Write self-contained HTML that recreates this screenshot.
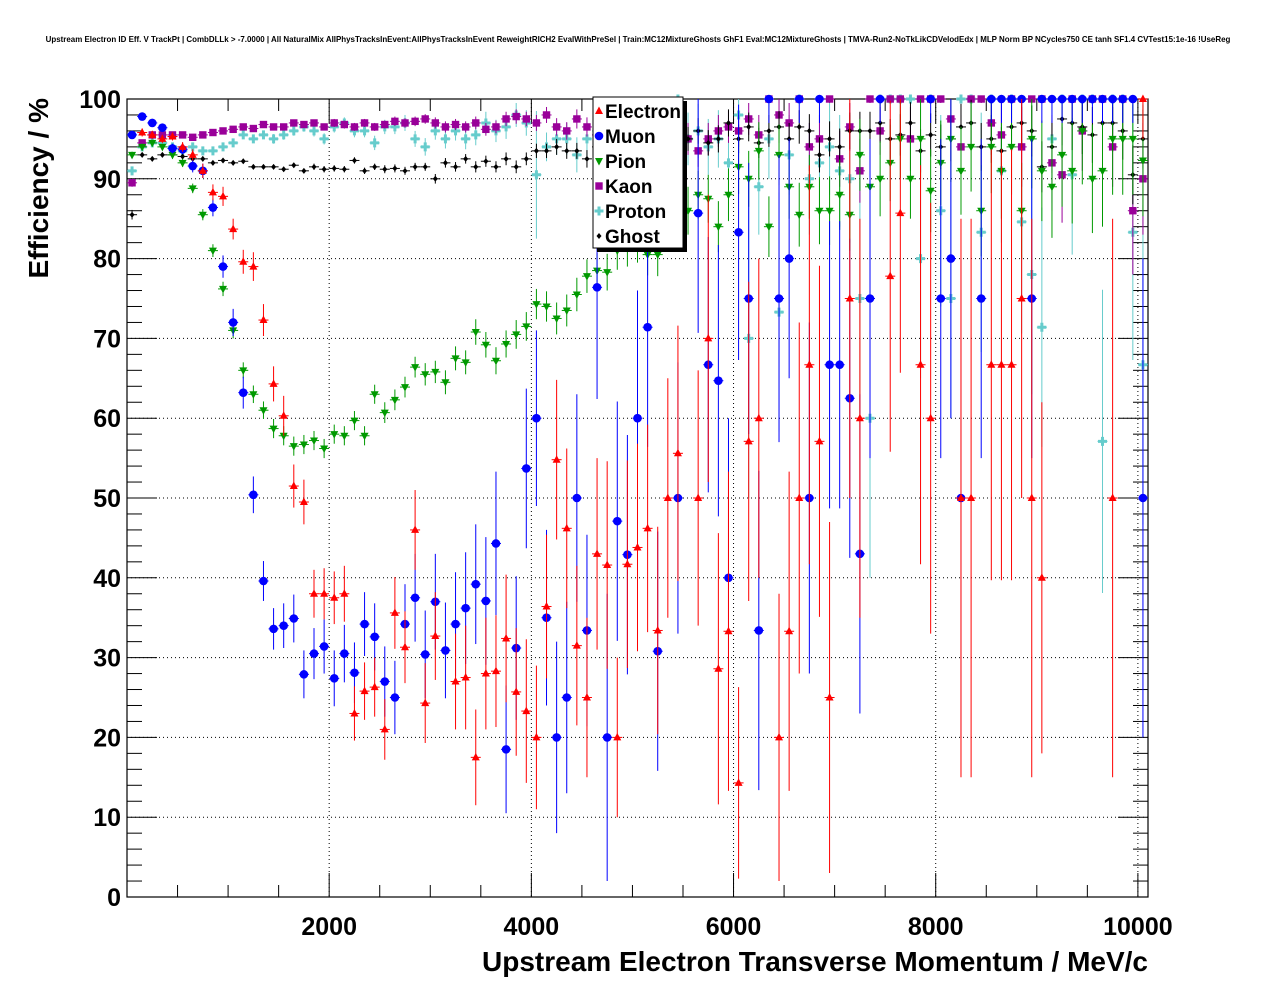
<!DOCTYPE html>
<html><head><meta charset="utf-8"><style>
body{margin:0;background:#fff;width:1276px;height:996px;overflow:hidden}
svg{font-family:"Liberation Sans",sans-serif}
</style></head><body>
<svg id="chart" width="1276" height="996" xmlns="http://www.w3.org/2000/svg">
<rect width="1276" height="996" fill="#fff"/>
<text x="638" y="42" font-size="7.95" font-weight="bold" text-anchor="middle">Upstream Electron ID Eff. V TrackPt | CombDLLk &gt; -7.0000 | All NaturalMix AllPhysTracksInEvent:AllPhysTracksInEvent ReweightRICH2 EvalWithPreSel | Train:MC12MixtureGhosts GhF1 Eval:MC12MixtureGhosts | TMVA-Run2-NoTkLikCDVelodEdx | MLP Norm BP NCycles750 CE tanh SF1.4 CVTest15:1e-16 !UseReg</text>
<g id="grid"></g>
<g id="axes"></g>
<g id="marks"></g>
<text x="1148" y="971" font-size="28" font-weight="bold" text-anchor="end">Upstream Electron Transverse Momentum / MeV/c</text>
<text transform="translate(48,98) rotate(-90)" font-size="28" font-weight="bold" text-anchor="end">Efficiency / %</text>
<g id="legend"></g>
</svg>
<script>
const binCenters = Array.from({length:101},(_,i)=>50+100*i);
const xTickLabels = [2000,4000,6000,8000,10000];
const yTickLabels = [0,10,20,30,40,50,60,70,80,90,100];
const seriesNames = ["Electron","Muon","Pion","Kaon","Proton","Ghost"];
const electronEff = [null,95.8,95.5,95,95.3,94,93,91,88.3,87.8,83.7,79.6,79,72.3,64.3,60.3,51.5,49.5,38,38,37.5,38,23,25.8,26.3,21,35.6,31.3,46,24.3,32.7,null,27,27.5,17.5,28,28.3,32.4,25.7,23.3,20,36.4,54.8,46.2,31.5,25,43,41.6,20,41.7,43.8,46.2,33.4,50,55.6,null,50,70,28.6,33.3,14.3,57.1,60,null,20,33.3,50,66.7,57.1,25,null,75,60,null,null,77.8,85.7,null,66.7,60,null,null,50,50,null,66.7,66.7,66.7,75,50,40,null,null,null,null,null,null,50,null,null,100];
const electronErr = [0.5,0.5,0.5,0.5,0.5,0.6,0.7,0.9,1,1.2,1.3,1.5,1.8,2,2.2,2.5,2.7,2.8,3,3.2,3.3,3.5,3.4,3.6,3.7,3.8,4.5,4.5,5,5,5.5,5.5,6,6.5,6,7,7,8,8,9,9,9,10,10,10,10,12,13,10,13,13,13,13,15,16,16,16,18,17,20,12,20,20,20,18,20,22,25,22,22,20,25,25,22,22,22,20,25,25,27,25,25,35,35,30,27,27,27,25,35,22,25,25,25,25,25,25,35,25,25,5];
const muonEff = [95.5,97.8,97,96.4,93.8,93.7,91.6,91,86.4,79,72,63.2,50.4,39.6,33.6,34,34.9,27.9,30.5,31.4,27.4,30.5,28.1,34.2,32.6,27,25,34.2,37.5,30.4,37,30.9,34.2,36.2,39.2,37.1,44.3,18.5,31.2,53.7,60,35,20,25,50,33.4,76.4,20,47.1,42.9,60,71.4,30.8,null,50,null,85.7,66.7,64.7,40,83.3,75,33.4,100,75,80,100,50,100,66.7,66.7,62.5,43,75,100,null,null,null,null,100,75,80,50,null,75,100,100,100,100,75,100,100,100,100,100,100,100,100,100,100,50];
const muonErr = [0.4,0.4,0.4,0.5,0.6,0.6,0.8,0.9,1.1,1.4,1.7,2,2.3,2.5,2.6,2.8,3,3,3.2,3.4,3.5,3.6,3.8,4,4.2,4.4,4.6,5,5.5,5.5,6,6,6.5,7,7.5,8,9,8,9,10,11,11,12,12,13,12,14,18,15,15,16,15,15,15,17,15,15,16,17,20,16,17,20,3,18,15,3,22,3,18,18,20,20,20,3,3,3,3,3,3,20,20,30,3,20,3,3,3,3,20,3,3,3,3,3,3,3,3,3,3,30];
const pionEff = [93,94,94.5,94,93,92,88.8,85.5,81,76.2,71,66,63,61,58.7,57.8,56.5,56.7,57.2,56.2,58,57.8,59.7,57.8,63,60.7,62.3,63.9,66.4,65.5,65.8,64.5,67.5,67,70.8,69.2,67.2,69.3,70.5,71.5,74.3,74,72.5,73.5,75.5,77.8,78.5,78.3,81,81.5,82,80.5,80.5,84,85,86,88,87.5,84,88,91.5,90,93.5,84,93,89,85.5,89,86,86,88,85.5,93,89,90,92,95,90,95,88.5,92,95,91,94,86,94,91,94,86,95,91,89,93,91,96,90,91,95,95,95,92.3];
const pionErr = [0.4,0.4,0.4,0.4,0.5,0.5,0.6,0.7,0.8,0.9,1,1,1.1,1.1,1.2,1.2,1.2,1.2,1.2,1.2,1.2,1.2,1.2,1.2,1.2,1.3,1.3,1.3,1.3,1.4,1.4,1.5,1.5,1.5,1.6,1.6,1.7,1.7,1.8,1.8,1.9,1.9,2,2,2.1,2.1,2.2,2.3,2.4,2.5,2.5,2.6,2.7,2.8,3,3,3,3,3.2,3.3,3.4,3.5,3.6,3.8,3.8,4,4,4,4.2,4.3,4.4,4.5,4.5,4.6,4.7,4.8,4.9,5,5,5.2,5.3,5.4,5.5,5.6,5.7,5.8,6,6,6,6.2,6.3,6.4,6.5,6.6,6.7,6.8,7,7,7,7,7];
const kaonEff = [89.5,94.5,95.5,95.5,95.5,95.5,95.2,95.5,95.8,96,96.2,96.5,96.3,96.8,96.5,96.5,97,96.8,97,96.5,97,96.8,96.5,97,96.5,96.8,97.2,97,97.2,97.5,97,96.5,96.8,96.5,97,96.2,96.5,97.5,97.8,97.5,97,98,96.5,96,97.5,96.5,95.5,93,94,95.5,96,96.5,92,94.5,98.2,95,93.5,95,96,96.5,96,97.5,95.5,100,98,97,100,94,95,100,92.5,96.5,91,100,96,100,100,95,100,100,100,97.5,94,100,100,97,95.5,100,94,100,100,92,90.5,100,96,100,100,94,100,86,90];
const kaonErr = [0.5,0.3,0.3,0.3,0.3,0.3,0.3,0.3,0.3,0.3,0.3,0.3,0.3,0.3,0.4,0.4,0.4,0.4,0.4,0.4,0.5,0.5,0.5,0.5,0.5,0.5,0.6,0.6,0.6,0.6,0.7,0.7,0.7,0.7,0.8,0.8,0.8,0.9,0.9,0.9,1,1,1.1,1.1,1.2,1.2,1.3,1.5,1.5,1.5,1.5,1.6,2,2,1.5,2,2,2,2,2,2,2,2.5,0.5,2,2.5,0.5,3,3,0.5,3.5,3,4,0.5,3,0.5,0.5,4,0.5,0.5,0.5,3,4,0.5,0.5,4,4,0.5,5,0.5,0.5,6,6,0.5,5,0.5,0.5,5,0.5,8,7];
const protonEff = [91,94,94.5,94.5,94,93.5,94,93.5,93.5,94,94.5,95.5,95,95.5,95,95.5,96,96.5,96,95,96.5,97,96,96,94.5,96.5,96.5,97,95,94,96,95,96,95,95.5,97,96,96.5,98,97,90.5,94,95,95,93,95,96,95.5,96,94.5,96,97,96,94,100,95,96,94,95,92,98,70,89,95,73.3,93,100,90,92,94,91,90,75,60,100,100,100,100,80,100,86,75,100,100,83.3,100,91,100,84.6,78,71.4,95,100,90.5,100,100,57.1,100,100,83.3,66.7];
const protonErr = [0.5,0.4,0.4,0.4,0.4,0.4,0.4,0.4,0.5,0.5,0.5,0.5,0.5,0.5,0.6,0.6,0.6,0.6,0.7,0.7,0.7,0.7,0.8,0.8,0.9,0.9,0.9,1,1,1.1,1.1,1.2,1.2,1.3,1.3,1.4,1.4,1.5,1.5,1.6,8,1.8,2,2,2.2,2.2,2.4,2.5,2.6,2.8,3,3,3,3.2,0.5,3.3,3.4,3.5,3.6,4,3,20,6,5,15,5,0.5,7,7,6,7,8,15,20,0.5,0.5,0.5,0.5,15,0.5,12,15,0.5,0.5,15,0.5,9,0.5,14,15,15,8,0.5,10,0.5,0.5,19,0.5,0.5,16,20];
const ghostEff = [85.5,93,92.5,93,93,92.8,92.5,92.5,92,92.3,92,92.2,91.5,91.5,91.5,91.2,91.7,91,91.5,91.2,91.3,91.2,92.3,91,91.5,91.2,91.3,91,91.5,91.5,90,92,91.5,92.5,91.5,92.2,91.5,92.5,91.5,92.5,93.5,93.5,94,93.5,93.5,92.5,94,93.5,94.5,95,94,93,95.5,95,93.5,95,96,94.5,95,97,95,96.5,94.5,96,96.5,95,96.5,96,93,95,94,96,96,96,97,95,95.5,97,93.5,95.5,94,95,96.5,97,94,95,93.5,96.5,97,96,91.5,94,97.5,97,96.5,95.5,97,97,96,90.5,95];
const ghostErr = [0.6,0.3,0.3,0.3,0.3,0.3,0.3,0.3,0.3,0.3,0.3,0.3,0.3,0.3,0.3,0.3,0.3,0.3,0.4,0.4,0.4,0.4,0.4,0.4,0.4,0.5,0.5,0.5,0.5,0.5,0.6,0.6,0.6,0.6,0.7,0.7,0.7,0.8,0.8,0.8,0.9,0.9,1,1,1,1.1,1.1,1.2,1.2,1.3,1.3,1.4,1.4,1.5,1.5,1.5,1.6,1.6,1.7,1.7,1.8,1.8,1.9,2,2,2,2.1,2.1,2.2,2.2,2.3,2.3,2.4,2.4,2.5,2.5,2.6,2.6,2.7,2.7,2.8,2.8,2.9,2.9,3,3,3,3.1,3.1,3.2,3.2,3.3,3.3,3.4,3.4,3.5,3.5,3.6,3.6,3.7,3.7];

const NS="http://www.w3.org/2000/svg";
const L=127,R=1148,T=99,B=897;
const XMAX=10100;
const xs=v=>L+(v/XMAX)*(R-L);
const ys=v=>B-(v/100)*(B-T);
function mk(tag,attrs,parent){const e=document.createElementNS(NS,tag);for(const k in attrs)e.setAttribute(k,attrs[k]);parent.appendChild(e);return e;}
const grid=document.getElementById('grid'),axes=document.getElementById('axes'),marks=document.getElementById('marks'),legend=document.getElementById('legend');
yTickLabels.forEach(v=>{if(v>0&&v<100){const g=mk('line',{x1:L,x2:R,y1:ys(v),y2:ys(v),stroke:'#000','stroke-width':1,'stroke-dasharray':'1,3'},grid);}});
xTickLabels.forEach(v=>{const g=mk('line',{x1:xs(v),x2:xs(v),y1:T,y2:B,stroke:'#000','stroke-width':1,'stroke-dasharray':'1,3'},grid);});
const frame=mk('rect',{x:L,y:T,width:R-L,height:B-T,fill:'none',stroke:'#000','stroke-width':1.2},axes);


for(let v=500;v<=10000;v+=500){const len=v%2000===0?24:12;mk('line',{x1:xs(v),x2:xs(v),y1:B,y2:B-len,stroke:'#000'},axes);mk('line',{x1:xs(v),x2:xs(v),y1:T,y2:T+len,stroke:'#000'},axes);}
for(let v=0;v<=100;v+=2){const len=v%10===0?30:15;mk('line',{x1:L,x2:L+len,y1:ys(v),y2:ys(v),stroke:'#000'},axes);mk('line',{x1:R,x2:R-len,y1:ys(v),y2:ys(v),stroke:'#000'},axes);}
xTickLabels.forEach(v=>{const t=mk('text',{x:xs(v),y:935,'font-size':25,'font-weight':'bold','text-anchor':'middle'},axes);t.textContent=v;});
yTickLabels.forEach(v=>{const t=mk('text',{x:121,y:ys(v)+9,'font-size':25,'font-weight':'bold','text-anchor':'end'},axes);t.textContent=v;});
const colors=['#ff0000','#0000ff','#009900','#990099','#66cccc','#000000'];
function marker(kind,x,y,c,p){
 if(kind===0)return mk('polygon',{points:`${x},${y-4.5} ${x-4},${y+3} ${x+4},${y+3}`,fill:c},p);
 if(kind===1)return mk('circle',{cx:x,cy:y,r:4.3,fill:c},p);
 if(kind===2)return mk('polygon',{points:`${x},${y+4.5} ${x-4},${y-3} ${x+4},${y-3}`,fill:c},p);
 if(kind===3)return mk('rect',{x:x-3.7,y:y-3.7,width:7.4,height:7.4,fill:c},p);
 if(kind===4)return mk('path',{d:`M${x-4.5},${y-1.5}h3v-3h3v3h3v3h-3v3h-3v-3h-3z`,fill:c},p);
 return mk('polygon',{points:`${x},${y-3} ${x-2.5},${y} ${x},${y+3} ${x+2.5},${y}`,fill:c},p);
}
const effs=[electronEff,muonEff,pionEff,kaonEff,protonEff,ghostEff];
const errs=[electronErr,muonErr,pionErr,kaonErr,protonErr,ghostErr];
const order=[4,3,5,2,1,0];
order.forEach(s=>{
 const g=mk('g',{},marks);
 
 
 effs[s].forEach((v,i)=>{
  if(v===null)return;
  const x=xs(binCenters[i]),y=ys(v),e=errs[s][i];
  const lo=Math.max(0,v-e),hi=Math.min(100,v+e);
  mk('line',{x1:x,x2:x,y1:ys(lo),y2:ys(hi),stroke:colors[s],'stroke-width':1},g);
  mk('line',{x1:x-5,x2:x+5,y1:y,y2:y,stroke:colors[s],'stroke-width':1},g);
  const m=marker(s,x,y,colors[s],g);
  
  
 });
});
mk('rect',{x:597,y:101,width:90,height:151,fill:'#000'},legend);
const lb=mk('rect',{x:593,y:97,width:90,height:151,fill:'#fff',stroke:'#000','stroke-width':1},legend);


seriesNames.forEach((n,k)=>{
 const y=111+k*25;
 const g=mk('g',{},legend);
 
 
 marker(k,599,y,colors[k],g);
 const t=mk('text',{x:605,y:y+7,'font-size':19,'font-weight':'bold'},g);t.textContent=n;
});
</script>
</body></html>
